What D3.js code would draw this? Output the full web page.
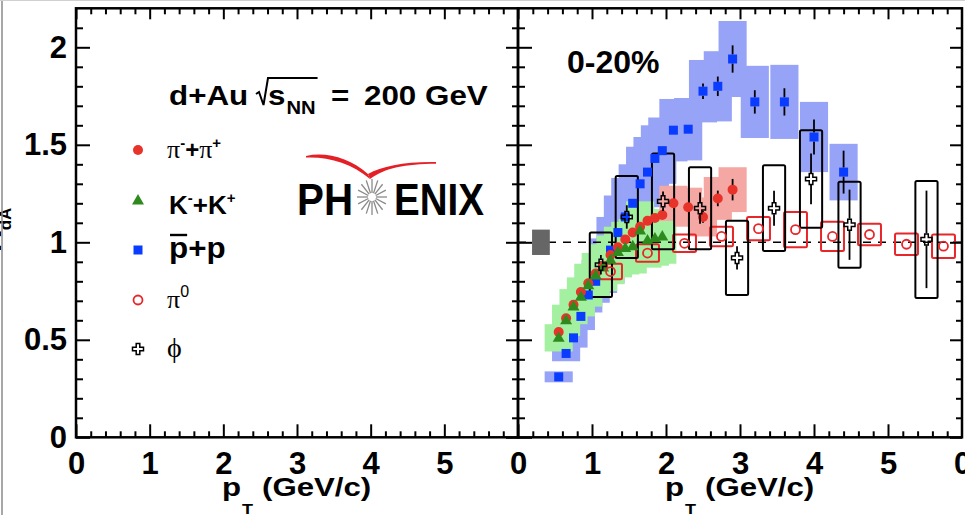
<!DOCTYPE html>
<html>
<head>
<meta charset="utf-8">
<script src="https://cdn.jsdelivr.net/npm/d3@7"></script>
<style>
  html, body { margin: 0; padding: 0; background: #fff; }
  svg { display: block; }
</style>
</head>
<body>
<svg id="chart" width="965" height="515"></svg>
<script>
// ---------------- data ----------------
// axis ticks
const xTickValues = [0, 1, 2, 3, 4, 5];
const xTickLabels = ["0", "1", "2", "3", "4", "5"];
const yTickValues = [0, 0.5, 1, 1.5, 2];
const yTickLabels = ["0", "0.5", "1", "1.5", "2"];

// p + pbar
const protonPt   = [0.55, 0.65, 0.75, 0.85, 0.95, 1.05, 1.15, 1.25, 1.35, 1.45, 1.55, 1.65, 1.75, 1.85, 1.95, 2.1, 2.3, 2.5, 2.7, 2.9, 3.2, 3.6, 4.0, 4.4];
const protonR    = [0.31, 0.43, 0.51, 0.62, 0.73, 0.80, 0.88, 0.96, 1.05, 1.13, 1.20, 1.30, 1.36, 1.43, 1.47, 1.575, 1.58, 1.775, 1.80, 1.94, 1.72, 1.72, 1.54, 1.36];
const protonStat = [0, 0, 0, 0, 0, 0, 0, 0, 0, 0, 0, 0, 0, 0, 0, 0.02, 0.02, 0.04, 0.05, 0.07, 0.06, 0.07, 0.09, 0.11];
const protonSys  = [0.028, 0.04, 0.05, 0.07, 0.09, 0.11, 0.14, 0.17, 0.19, 0.2, 0.2, 0.19, 0.18, 0.17, 0.17, 0.16, 0.16, 0.16, 0.18, 0.195, 0.185, 0.19, 0.18, 0.145];

// K- + K+
const kaonPt   = [0.55, 0.65, 0.75, 0.85, 0.95, 1.05, 1.15, 1.25, 1.35, 1.45, 1.55, 1.65, 1.75, 1.85, 1.95];
const kaonR    = [0.51, 0.60, 0.67, 0.72, 0.78, 0.83, 0.87, 0.91, 0.95, 0.97, 0.98, 1.06, 1.01, 1.02, 1.03];
const kaonSys  = [0.07, 0.08, 0.09, 0.10, 0.11, 0.115, 0.12, 0.125, 0.13, 0.135, 0.14, 0.15, 0.14, 0.14, 0.14];

// pi- + pi+
const pionPt   = [0.55, 0.65, 0.75, 0.85, 0.95, 1.05, 1.15, 1.25, 1.35, 1.45, 1.55, 1.65, 1.75, 1.85, 1.95, 2.1, 2.3, 2.5, 2.7, 2.9];
const pionR    = [0.54, 0.61, 0.68, 0.745, 0.79, 0.84, 0.88, 0.935, 0.975, 1.015, 1.05, 1.08, 1.11, 1.125, 1.14, 1.20, 1.18, 1.13, 1.225, 1.27];
const pionStat = [0, 0, 0, 0, 0, 0, 0, 0, 0, 0, 0, 0, 0, 0, 0, 0.02, 0.02, 0.03, 0.04, 0.055];
const pionSys  = [0, 0, 0, 0, 0, 0, 0, 0, 0, 0, 0, 0, 0, 0, 0, 0.09, 0.10, 0.10, 0.11, 0.115];

// pi0
const pi0Pt  = [1.25, 1.75, 2.25, 2.75, 3.25, 3.75, 4.25, 4.75, 5.25, 5.75];
const pi0R   = [0.85, 0.945, 0.995, 1.03, 1.07, 1.065, 1.03, 1.04, 0.99, 0.98];
const pi0Sys = [0.04, 0.045, 0.045, 0.05, 0.06, 0.09, 0.075, 0.055, 0.055, 0.06];

// phi
const phiPt   = [1.12, 1.47, 1.96, 2.46, 2.96, 3.46, 3.96, 4.48, 5.52];
const phiR    = [0.885, 1.13, 1.21, 1.175, 0.92, 1.175, 1.325, 1.09, 1.015];
const phiStat = [0.05, 0.06, 0.05, 0.08, 0.06, 0.09, 0.13, 0.18, 0.25];
const phiSys  = [0.165, 0.21, 0.245, 0.21, 0.19, 0.22, 0.25, 0.22, 0.30];

// global normalisation uncertainty, drawn at R = 1
const normPt  = [0.31];
const normR   = [1.0];
const normSys = [0.065];

// ---------------- styles ----------------
const FONT  = "'Liberation Sans', Arial, Helvetica, sans-serif";
const SERIF = "'Liberation Serif', 'Times New Roman', serif";
const C = {
  protonFill: "#0a3cff", protonBox: "#97a3f7",
  kaonFill: "#2f8a1e",   kaonBox: "#a3f0a0",
  pionFill: "#e8332a",   pionBox: "#f4a7a3",
  pi0: "#e8262a", phi: "#000", norm: "#666"
};

const svg = d3.select("#chart");
svg.append("rect").attr("width", 965).attr("height", 515).attr("fill", "#fff");

// ---------------- scales ----------------
const yScale = d3.scaleLinear().domain([0, 2.2]).range([437.3, 8.3]);
const xLeft  = d3.scaleLinear().domain([0, 6]).range([76, 518]);
const xRight = d3.scaleLinear().domain([0, 6]).range([518, 962]);
const xNext  = d3.scaleLinear().domain([0, 6]).range([962, 1406]); // neighbouring panel, only its first label shows

const xMinor = d3.range(0.2, 6, 0.2).filter(v => Math.abs(v - Math.round(v)) > 1e-6);
const yMinor = d3.range(0.1, 2.2, 0.1).filter(v => Math.abs(v * 2 - Math.round(v * 2)) > 1e-6);

function styleAxis(g) {
  g.select(".domain").remove();
  g.selectAll(".tick line").attr("stroke", "#000").attr("stroke-width", 2);
  g.selectAll(".tick text")
    .attr("font-family", FONT).attr("font-weight", "bold")
    .attr("font-size", 31).attr("fill", "#000");
}

// horizontally stretched text runs, laid out one after another
function runs(parent, x, y, parts) {
  let cx = x;
  const out = [];
  parts.forEach(p => {
    if (p.at !== undefined) cx = p.at;
    const sx = p.sx || 1;
    const t = parent.append("text")
      .attr("transform", `translate(${cx},${y + (p.dy || 0)}) scale(${sx},1)`)
      .attr("font-family", p.family || FONT).attr("font-weight", p.weight || "bold")
      .attr("font-size", p.size).attr("fill", "#000").text(p.t);
    const w = t.node().getComputedTextLength() * sx;
    out.push({ x0: cx, x1: cx + w });
    cx += w + (p.gap || 0);
  });
  return out;
}

function drawFrame(x, withYLabels) {
  const [x0, x1] = x.range();
  const [yb, yt] = yScale.range();
  const g = svg.append("g");
  // bottom
  g.append("g").attr("transform", `translate(0,${yb})`)
    .call(d3.axisBottom(x).tickValues(xTickValues).tickSize(-13).tickPadding(15)
      .tickFormat((d, i) => xTickLabels[i])).call(styleAxis);
  g.append("g").attr("transform", `translate(0,${yb})`)
    .call(d3.axisBottom(x).tickValues(xMinor).tickSize(-6).tickFormat("")).call(styleAxis);
  // top
  g.append("g").attr("transform", `translate(0,${yt})`)
    .call(d3.axisTop(x).tickValues(xTickValues).tickSize(-11).tickFormat("")).call(styleAxis);
  g.append("g").attr("transform", `translate(0,${yt})`)
    .call(d3.axisTop(x).tickValues(xMinor).tickSize(-6).tickFormat("")).call(styleAxis);
  // left
  g.append("g").attr("transform", `translate(${x0},0)`)
    .call(d3.axisLeft(yScale).tickValues(yTickValues).tickSize(-14).tickPadding(9)
      .tickFormat((d, i) => withYLabels ? yTickLabels[i] : "")).call(styleAxis);
  g.append("g").attr("transform", `translate(${x0},0)`)
    .call(d3.axisLeft(yScale).tickValues(yMinor).tickSize(-7).tickFormat("")).call(styleAxis);
  // right
  g.append("g").attr("transform", `translate(${x1},0)`)
    .call(d3.axisRight(yScale).tickValues(yTickValues).tickSize(-12).tickFormat("")).call(styleAxis);
  g.append("g").attr("transform", `translate(${x1},0)`)
    .call(d3.axisRight(yScale).tickValues(yMinor).tickSize(-6).tickFormat("")).call(styleAxis);
  // frame
  g.append("rect").attr("x", x0).attr("y", yt).attr("width", x1 - x0).attr("height", yb - yt)
    .attr("fill", "none").attr("stroke", "#000").attr("stroke-width", 2.5);
  // axis title  p_T (GeV/c)
  const start = x(3) - 75;
  runs(g, start, 496, [
    { t: "p", size: 26, sx: 1.2, gap: 1 },
    { t: "T", size: 15, sx: 1.2, dy: 18 },
    { t: "(GeV/c)", size: 26, sx: 1.2, at: start + 40 }
  ]);
  return g;
}

// ---------------- right panel: data ----------------
const plot = svg.append("g");
const BOX_W = 0.19, PI0_W = 0.155, PHI_W = 0.15, NORM_W = 0.12;

function fillBoxes(pts, vals, sys, halfW, color) {
  plot.append("g").selectAll("rect")
    .data(pts.map((p, i) => ({ p, v: vals[i], s: sys[i] })).filter(d => d.s > 0))
    .join("rect")
    .attr("x", d => xRight(d.p - halfW))
    .attr("width", d => xRight(d.p + halfW) - xRight(d.p - halfW))
    .attr("y", d => yScale(d.v + d.s))
    .attr("height", d => yScale(d.v - d.s) - yScale(d.v + d.s))
    .attr("fill", color);
}
fillBoxes(protonPt, protonR, protonSys, BOX_W, C.protonBox);
fillBoxes(kaonPt, kaonR, kaonSys, BOX_W, C.kaonBox);
fillBoxes(pionPt, pionR, pionSys, BOX_W, C.pionBox);

// reference line at R = 1
plot.append("line")
  .attr("x1", xRight(0)).attr("x2", xRight(6))
  .attr("y1", yScale(1)).attr("y2", yScale(1))
  .attr("stroke", "#000").attr("stroke-width", 1.6).attr("stroke-dasharray", "8,7");

fillBoxes(normPt, normR, normSys, NORM_W, C.norm);

function openBoxes(pts, vals, sys, halfW, color) {
  plot.append("g").selectAll("rect")
    .data(pts.map((p, i) => ({ p, v: vals[i], s: sys[i] })))
    .join("rect")
    .attr("x", d => xRight(d.p - halfW))
    .attr("width", d => xRight(d.p + halfW) - xRight(d.p - halfW))
    .attr("y", d => yScale(d.v + d.s))
    .attr("height", d => yScale(d.v - d.s) - yScale(d.v + d.s))
    .attr("rx", 1.5)
    .attr("fill", "none").attr("stroke", color).attr("stroke-width", 2);
}
openBoxes(pi0Pt, pi0R, pi0Sys, PI0_W, C.pi0);
openBoxes(phiPt, phiR, phiSys, PHI_W, C.phi);

function errorBars(pts, vals, errs, gap) {
  const d = pts.map((p, i) => ({ p, v: vals[i], e: errs[i] })).filter(d => d.e > 0);
  const g = plot.append("g").attr("stroke", "#000").attr("stroke-width", 1.8);
  d.forEach(o => {
    const cx = xRight(o.p), cy = yScale(o.v);
    const top = yScale(o.v + o.e), bot = yScale(o.v - o.e);
    if (cy - gap > top) g.append("line").attr("x1", cx).attr("x2", cx).attr("y1", top).attr("y2", cy - gap);
    if (cy + gap < bot) g.append("line").attr("x1", cx).attr("x2", cx).attr("y1", cy + gap).attr("y2", bot);
  });
}

// markers
const SQ = 9;
errorBars(protonPt, protonR, protonStat, 4.5);
plot.append("g").selectAll("rect").data(protonPt).join("rect")
  .attr("x", (d) => xRight(d) - SQ / 2).attr("y", (d, i) => yScale(protonR[i]) - SQ / 2)
  .attr("width", SQ).attr("height", SQ).attr("fill", C.protonFill);

errorBars(pionPt, pionR, pionStat, 4.5);
plot.append("g").selectAll("circle").data(pionPt).join("circle")
  .attr("cx", d => xRight(d)).attr("cy", (d, i) => yScale(pionR[i])).attr("r", 5)
  .attr("fill", C.pionFill);

const tri = d3.symbol(d3.symbolTriangle, 62);
plot.append("g").selectAll("path").data(kaonPt).join("path")
  .attr("d", tri)
  .attr("transform", (d, i) => `translate(${xRight(d)},${yScale(kaonR[i]) + 0.5})`)
  .attr("fill", C.kaonFill);

plot.append("g").selectAll("circle").data(pi0Pt).join("circle")
  .attr("cx", d => xRight(d)).attr("cy", (d, i) => yScale(pi0R[i])).attr("r", 4.5)
  .attr("fill", "none").attr("stroke", C.pi0).attr("stroke-width", 1.8);

function crossPath(cx, cy, a, w) {
  return `M${cx - w},${cy - a}L${cx + w},${cy - a}L${cx + w},${cy - w}L${cx + a},${cy - w}` +
         `L${cx + a},${cy + w}L${cx + w},${cy + w}L${cx + w},${cy + a}L${cx - w},${cy + a}` +
         `L${cx - w},${cy + w}L${cx - a},${cy + w}L${cx - a},${cy - w}L${cx - w},${cy - w}Z`;
}
errorBars(phiPt, phiR, phiStat, 6);
plot.append("g").selectAll("path").data(phiPt).join("path")
  .attr("d", (d, i) => crossPath(xRight(d), yScale(phiR[i]), 5.5, 1.8))
  .attr("fill", "none").attr("stroke", C.phi).attr("stroke-width", 1.5);

// ---------------- frames and axes ----------------
drawFrame(xLeft, true);
drawFrame(xRight, false);
// first label of the neighbouring panel
svg.append("g").attr("transform", `translate(0,${yScale.range()[0]})`)
  .call(d3.axisBottom(xNext).tickValues([0]).tickSize(0).tickPadding(15).tickFormat(() => "0"))
  .call(styleAxis);

// y-axis title R_dA (largely outside the canvas)
const yt = svg.append("text").attr("transform", "translate(1,252) rotate(-90)")
  .attr("font-family", FONT).attr("font-weight", "bold").attr("font-size", 30);
yt.append("tspan").text("R");
yt.append("tspan").attr("dy", 10).attr("font-size", 17).text("dA");

// centrality label
svg.append("text").attr("x", 567).attr("y", 73)
  .attr("font-family", FONT).attr("font-weight", "bold").attr("font-size", 32).text("0-20%");

// ---------------- left panel: legend ----------------
const leg = svg.append("g");

// collision system title with radical sign
{
  runs(leg, 169, 105, [{ t: "d+Au", size: 28, sx: 1.12 }]);
  const b = runs(leg, 268, 105, [
    { t: "s", size: 28, sx: 1.12, gap: 1 },
    { t: "NN", size: 18, sx: 1.12, dy: 9 }
  ]);
  runs(leg, 331, 105, [{ t: "=", size: 28, sx: 1.12 }]);
  runs(leg, 364, 105, [{ t: "200 GeV", size: 28, sx: 1.12 }]);
  leg.append("path")
    .attr("d", `M256,94 L259,92 L263.5,105 L268,78 L${b[1].x1 + 2},78`)
    .attr("fill", "none").attr("stroke", "#000").attr("stroke-width", 2)
    .attr("stroke-linejoin", "miter");
}

const LX = 138, TX = 167;
// pi- + pi+
leg.append("circle").attr("cx", LX).attr("cy", 150).attr("r", 5).attr("fill", C.pionFill);
runs(leg, TX, 158, [
  { t: "π", size: 26, family: SERIF, weight: "normal" },
  { t: "-", size: 15, dy: -10 },
  { t: "+", size: 24 },
  { t: "π", size: 26, family: SERIF, weight: "normal" },
  { t: "+", size: 15, dy: -10 }
]);
// K- + K+
leg.append("path").attr("d", tri).attr("transform", `translate(${LX},201)`).attr("fill", C.kaonFill);
runs(leg, TX + 2, 214, [
  { t: "K", size: 26 },
  { t: "-", size: 15, dy: -11 },
  { t: "+K", size: 26 },
  { t: "+", size: 15, dy: -11 }
]);
// pbar + p
leg.append("rect").attr("x", LX - SQ / 2).attr("y", 250 - SQ / 2).attr("width", SQ).attr("height", SQ)
  .attr("fill", C.protonFill);
{
  const r = runs(leg, TX + 2, 258, [{ t: "p", size: 29, sx: 1.08 }, { t: "+p", size: 29, sx: 1.08 }]);
  leg.append("line").attr("x1", r[0].x0 + 1).attr("x2", r[0].x1 - 1).attr("y1", 235).attr("y2", 235)
    .attr("stroke", "#000").attr("stroke-width", 2.4);
}
// pi0
leg.append("circle").attr("cx", LX).attr("cy", 300).attr("r", 4.5)
  .attr("fill", "none").attr("stroke", C.pi0).attr("stroke-width", 1.8);
runs(leg, TX, 308, [
  { t: "π", size: 26, family: SERIF, weight: "normal" },
  { t: "0", size: 16, dy: -11, weight: "normal" }
]);
// phi
leg.append("path").attr("d", crossPath(LX, 349, 5.5, 1.8))
  .attr("fill", "none").attr("stroke", "#000").attr("stroke-width", 1.5);
runs(leg, TX, 357, [{ t: "ϕ", size: 28, family: SERIF, weight: "normal" }]);

// ---------------- PHENIX logo ----------------
const logo = svg.append("g");
logo.append("text").attr("x", 297).attr("y", 215).attr("font-family", FONT).attr("font-weight", "bold")
  .attr("font-size", 44).attr("textLength", 56).attr("lengthAdjust", "spacingAndGlyphs").text("PH");
logo.append("text").attr("x", 394).attr("y", 215).attr("font-family", FONT).attr("font-weight", "bold")
  .attr("font-size", 44).attr("textLength", 90).attr("lengthAdjust", "spacingAndGlyphs").text("ENIX");
{
  const cx = 372, cy = 197;
  d3.range(16).forEach(k => {
    const ang = k * Math.PI / 8;
    logo.append("line")
      .attr("x1", cx + 4 * Math.cos(ang)).attr("y1", cy + 4 * Math.sin(ang))
      .attr("x2", cx + 15 * Math.cos(ang)).attr("y2", cy + 18 * Math.sin(ang))
      .attr("stroke", "#8a8a8a").attr("stroke-width", 1.3);
  });
  logo.append("path")
    .attr("d", "M306,156 C326,151.5 350,158 368,174 L370,179 C352,163 328,156.5 306,157.5 Z")
    .attr("fill", "#e41f26");
  logo.append("path")
    .attr("d", "M368,174 C382,166 405,161.5 436,162 L436,163.8 C405,164 385,168 370,179 Z")
    .attr("fill", "#e41f26");
}

// page edge lines
svg.append("line").attr("x1", 2).attr("x2", 2).attr("y1", 0).attr("y2", 515)
  .attr("stroke", "#8a8a8a").attr("stroke-width", 1.5);
svg.append("line").attr("x1", 0).attr("x2", 965).attr("y1", 0.5).attr("y2", 0.5)
  .attr("stroke", "#d0d0d0").attr("stroke-width", 1);
</script>
</body>
</html>
